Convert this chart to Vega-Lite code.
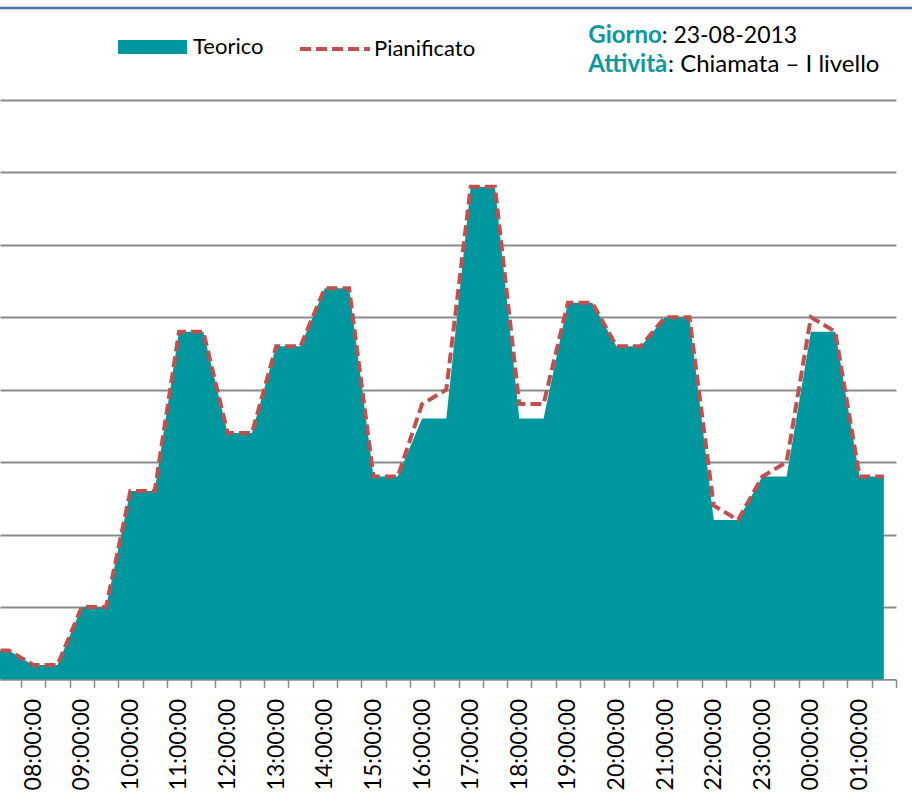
{
  "$schema": "https://vega.github.io/schema/vega-lite/v6.json",
  "width": 896,
  "height": 671.4,
  "autosize": {"type": "none"},
  "padding": {"left": 0, "top": 8, "right": 16, "bottom": 128.6},
  "config": {
    "font": "Lato",
    "view": {"stroke": null},
    "legend": {"labelFont": "Lato", "labelFontSize": 22, "labelColor": "#000000", "title": null},
    "axisY": {"grid": true, "gridColor": "#8a8a8a", "gridWidth": 1.8, "labels": false, "ticks": false, "domain": false, "title": null}
  },
  "datasets": {
    "serie": [
      {"ora": 7.0, "teorico": 2, "pianificato": 2},
      {"ora": 7.5, "teorico": 2, "pianificato": 2},
      {"ora": 8.0, "teorico": 1, "pianificato": 1},
      {"ora": 8.5, "teorico": 1, "pianificato": 1},
      {"ora": 9.0, "teorico": 5, "pianificato": 5},
      {"ora": 9.5, "teorico": 5, "pianificato": 5},
      {"ora": 10.0, "teorico": 13, "pianificato": 13},
      {"ora": 10.5, "teorico": 13, "pianificato": 13},
      {"ora": 11.0, "teorico": 24, "pianificato": 24},
      {"ora": 11.5, "teorico": 24, "pianificato": 24},
      {"ora": 12.0, "teorico": 17, "pianificato": 17},
      {"ora": 12.5, "teorico": 17, "pianificato": 17},
      {"ora": 13.0, "teorico": 23, "pianificato": 23},
      {"ora": 13.5, "teorico": 23, "pianificato": 23},
      {"ora": 14.0, "teorico": 27, "pianificato": 27},
      {"ora": 14.5, "teorico": 27, "pianificato": 27},
      {"ora": 15.0, "teorico": 14, "pianificato": 14},
      {"ora": 15.5, "teorico": 14, "pianificato": 14},
      {"ora": 16.0, "teorico": 18, "pianificato": 19},
      {"ora": 16.5, "teorico": 18, "pianificato": 20},
      {"ora": 17.0, "teorico": 34, "pianificato": 34},
      {"ora": 17.5, "teorico": 34, "pianificato": 34},
      {"ora": 18.0, "teorico": 18, "pianificato": 19},
      {"ora": 18.5, "teorico": 18, "pianificato": 19},
      {"ora": 19.0, "teorico": 26, "pianificato": 26},
      {"ora": 19.5, "teorico": 26, "pianificato": 26},
      {"ora": 20.0, "teorico": 23, "pianificato": 23},
      {"ora": 20.5, "teorico": 23, "pianificato": 23},
      {"ora": 21.0, "teorico": 25, "pianificato": 25},
      {"ora": 21.5, "teorico": 25, "pianificato": 25},
      {"ora": 22.0, "teorico": 11, "pianificato": 12},
      {"ora": 22.5, "teorico": 11, "pianificato": 11},
      {"ora": 23.0, "teorico": 14, "pianificato": 14},
      {"ora": 23.5, "teorico": 14, "pianificato": 15},
      {"ora": 24.0, "teorico": 24, "pianificato": 25},
      {"ora": 24.5, "teorico": 24, "pianificato": 24},
      {"ora": 25.0, "teorico": 14, "pianificato": 14},
      {"ora": 25.5, "teorico": 14, "pianificato": 14}
    ],
    "uno": [{"id": 1}]
  },
  "resolve": {"axis": {"x": "independent"}},
  "layer": [
    {
      "data": {"name": "serie"},
      "mark": {"type": "area", "clip": true, "opacity": 1, "strokeWidth": 0},
      "encoding": {
        "x": {
          "field": "ora", "type": "quantitative",
          "scale": {"domain": [7.318, 25.75], "nice": false, "zero": false},
          "axis": {
            "orient": "bottom", "title": null, "labels": false, "grid": false,
            "values": [7.75, 8.25, 8.75, 9.25, 9.75, 10.25, 10.75, 11.25, 11.75, 12.25, 12.75, 13.25, 13.75, 14.25, 14.75, 15.25, 15.75, 16.25, 16.75, 17.25, 17.75, 18.25, 18.75, 19.25, 19.75, 20.25, 20.75, 21.25, 21.75, 22.25, 22.75, 23.25, 23.75, 24.25, 24.75, 25.25, 25.75],
            "ticks": true, "tickSize": 8, "tickWidth": 1.5, "tickColor": "#8a8a8a",
            "domain": true, "domainColor": "#8a8a8a", "domainWidth": 1.6
          }
        },
        "y": {
          "field": "teorico", "type": "quantitative",
          "scale": {"domain": [0, 46.34], "nice": false, "zero": true},
          "axis": {"title": null, "values": [5, 10, 15, 20, 25, 30, 35, 40]}
        },
        "fill": {
          "datum": "Teorico", "type": "nominal",
          "scale": {"range": ["#00989E"]},
          "legend": {
            "orient": "none", "legendX": 118, "legendY": 4.5, "title": null,
            "symbolType": "M-1,-0.2H1V0.2H-1Z", "symbolSize": 4761,
            "symbolStrokeWidth": 0, "symbolOpacity": 1, "labelOffset": 6
          }
        }
      }
    },
    {
      "data": {"name": "serie"},
      "mark": {"type": "line", "clip": true, "strokeWidth": 4, "strokeDash": [11, 5]},
      "encoding": {
        "x": {
          "field": "ora", "type": "quantitative",
          "axis": {
            "orient": "bottom", "title": null, "grid": false, "domain": false,
            "ticks": false, "tickSize": 0,
            "values": [8, 9, 10, 11, 12, 13, 14, 15, 16, 17, 18, 19, 20, 21, 22, 23, 24, 25],
            "labelExpr": "(datum.value % 24 < 10 ? '0' : '') + (datum.value % 24) + ':00:00'",
            "labelAngle": 270, "labelFont": "Lato", "labelFontSize": 23,
            "labelColor": "#000000", "labelPadding": 19,
            "labelOverlap": false, "labelFlush": false, "labelBound": false
          }
        },
        "y": {"field": "pianificato", "type": "quantitative", "axis": {"title": null, "values": [5, 10, 15, 20, 25, 30, 35, 40]}},
        "stroke": {
          "datum": "Pianificato", "type": "nominal",
          "scale": {"range": ["#C0504D"]},
          "legend": {
            "orient": "none", "legendX": 298, "legendY": 4, "title": null,
            "symbolType": "stroke", "symbolSize": 4900,
            "symbolStrokeWidth": 4, "symbolDash": [11, 5], "labelOffset": 2
          }
        }
      }
    },
    {
      "data": {"name": "uno"},
      "mark": {"type": "rule", "color": "#4A72AA", "strokeWidth": 2.5},
      "encoding": {
        "x": {"datum": 7.318, "type": "quantitative", "axis": null},
        "x2": {"datum": 26.08},
        "y": {"datum": 46.34, "type": "quantitative", "axis": {"title": null, "values": [5, 10, 15, 20, 25, 30, 35, 40]}}
      }
    },
    {
      "data": {"name": "uno"},
      "mark": {"type": "text", "text": "Giorno", "font": "Lato", "fontSize": 24, "fontWeight": "bold", "fill": "#0A999E", "align": "left", "baseline": "alphabetic"},
      "encoding": {
        "x": {"datum": 19.421, "type": "quantitative", "axis": null},
        "y": {"datum": 43.91, "type": "quantitative", "axis": {"title": null, "values": [5, 10, 15, 20, 25, 30, 35, 40]}}
      }
    },
    {
      "data": {"name": "uno"},
      "mark": {"type": "text", "text": ": 23-08-2013", "font": "Lato", "fontSize": 23, "fontWeight": "normal", "fill": "#000000", "align": "left", "baseline": "alphabetic"},
      "encoding": {
        "x": {"datum": 20.931, "type": "quantitative", "axis": null},
        "y": {"datum": 43.91, "type": "quantitative", "axis": {"title": null, "values": [5, 10, 15, 20, 25, 30, 35, 40]}}
      }
    },
    {
      "data": {"name": "uno"},
      "mark": {"type": "text", "text": "Attività", "font": "Lato", "fontSize": 24, "fontWeight": "bold", "fill": "#0A999E", "align": "left", "baseline": "alphabetic"},
      "encoding": {
        "x": {"datum": 19.421, "type": "quantitative", "axis": null},
        "y": {"datum": 41.95, "type": "quantitative", "axis": {"title": null, "values": [5, 10, 15, 20, 25, 30, 35, 40]}}
      }
    },
    {
      "data": {"name": "uno"},
      "mark": {"type": "text", "text": ": Chiamata – I livello", "font": "Lato", "fontSize": 24, "fontWeight": "normal", "fill": "#000000", "align": "left", "baseline": "alphabetic"},
      "encoding": {
        "x": {"datum": 21.06, "type": "quantitative", "axis": null},
        "y": {"datum": 41.95, "type": "quantitative", "axis": {"title": null, "values": [5, 10, 15, 20, 25, 30, 35, 40]}}
      }
    }
  ]
}
